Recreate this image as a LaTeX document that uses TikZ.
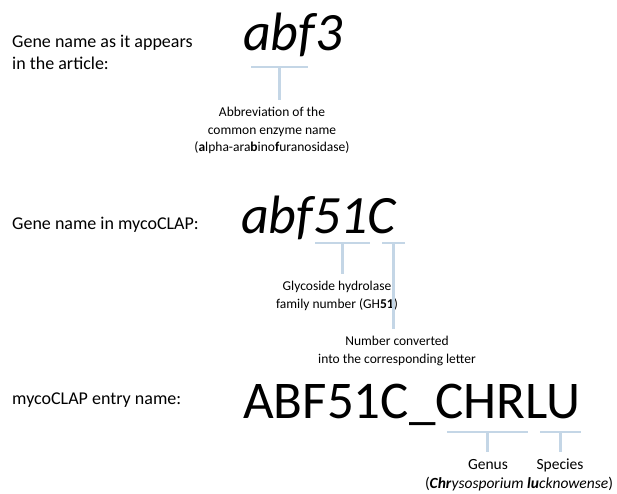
\documentclass[tikz,border=0pt]{standalone}
\usepackage{fontspec}
\setmainfont{Carlito}
\usetikzlibrary{calc,positioning}
\definecolor{barblue}{RGB}{196,214,230}

\begin{document}
\begin{tikzpicture}[x=1pt,y=-1pt,
    rowlabel/.style={font=\fontsize{18}{22}\selectfont, align=left, inner sep=0, anchor=base west},
    gene/.style={font=\fontsize{54}{60}\selectfont\itshape, inner sep=0, anchor=base west},
    entry/.style={font=\fontsize{53}{60}\selectfont, inner sep=0, anchor=base west},
    note/.style={font=\fontsize{13.5}{17.5}\selectfont, align=center, inner sep=0, anchor=north},
    bignote/.style={note, font=\fontsize{15.5}{19}\selectfont},
    bar/.style={draw=barblue, line width=2.8pt},
    stem/.style={draw=barblue, line width=2.3pt, shorten >=7pt}]
    \useasboundingbox (0,0) rectangle (617,493);

    % Name im Artikel
    \node[rowlabel] (lab1) at (12,69) {Gene name as it appears\\in the article:};
    \node[gene] (abf3) at (243,50) {abf3};

    \coordinate (a0) at (251,67);
    \coordinate (a1) at (308,67);
    \coordinate (am) at ($(a0)!0.5!(a1)$);
    \draw[bar] (a0) -- (a1);

    \node[note] (abbr) at (272,107) {Abbreviation of the\\common enzyme name\\(\textbf{a}lpha-ara\textbf{b}ino\textbf{f}uranosidase)};
    \draw[stem] (am) -- (am |- abbr.north);

    % Name in mycoCLAP
    \node[rowlabel] (lab2) at (12,229) {Gene name in mycoCLAP:};
    \node[gene] (abf51c) at (241,233) {abf51C};

    \coordinate (b0) at (315,243);
    \coordinate (b1) at (370,243);
    \coordinate (bm) at ($(b0)!0.5!(b1)$);
    \draw[bar] (b0) -- (b1);

    \coordinate (c0) at (382,243);
    \coordinate (c1) at (405,243);
    \coordinate (cm) at ($(c0)!0.5!(c1)$);
    \draw[bar] (c0) -- (c1);

    \node[note] (family) at (337,281) {Glycoside hydrolase\\family number (GH\textbf{51})};
    \draw[stem] (bm) -- (bm |- family.north);

    \node[note] (letter) at (397,336) {Number converted\\into the corresponding letter};
    \draw[stem] (cm) -- (cm |- letter.north);

    % Eintrag in mycoCLAP
    \node[rowlabel] (lab3) at (12,404) {mycoCLAP entry name:};
    \node[entry] (abf) at (243,418) {ABF51C\_CHRLU};

    \coordinate (d0) at (447,432);
    \coordinate (d1) at (528,432);
    \coordinate (dm) at ($(d0)!0.5!(d1)$);
    \draw[bar] (d0) -- (d1);

    \coordinate (e0) at (540,432);
    \coordinate (e1) at (581,432);
    \coordinate (em) at ($(e0)!0.5!(e1)$);
    \draw[bar] (e0) -- (e1);

    \node[bignote] (genus) at (488,459) {Genus};
    \node[bignote] (species) at (560,459) {Species};
    \node[bignote] (organism) at (519,477) {(\textbf{\textit{Chr}}\textit{ysosporium} \textbf{\textit{lu}}\textit{cknowense})};
    \draw[stem] (dm) -- (dm |- genus.north);
    \draw[stem] (em) -- (em |- species.north);
\end{tikzpicture}
\end{document}
